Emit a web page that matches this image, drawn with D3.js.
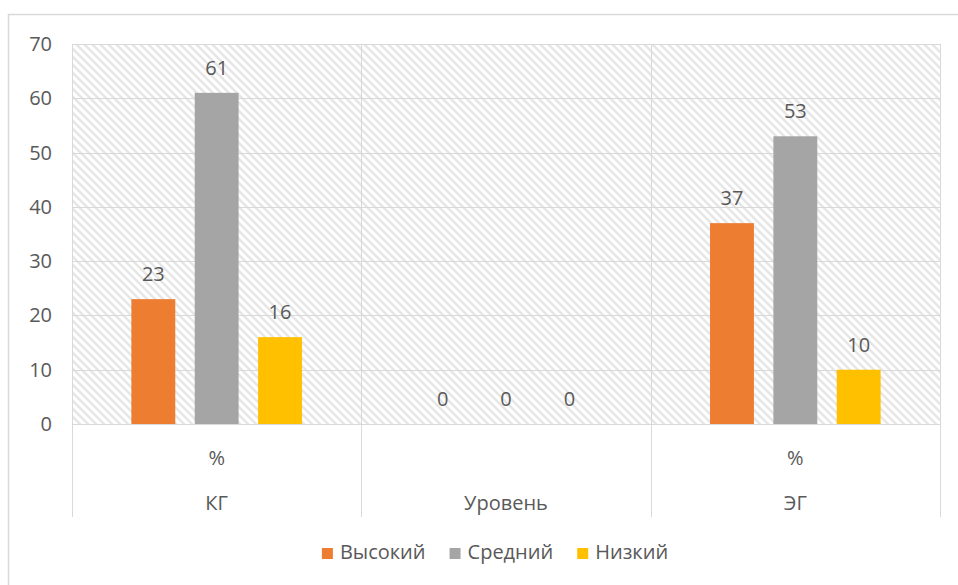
<!DOCTYPE html>
<html>
<head>
<meta charset="utf-8">
<script src="https://cdn.jsdelivr.net/npm/d3@7"></script>
<style>
  body { margin: 0; background: #fff; }
  text { font-family: "Open Sans", sans-serif; fill: #595959; }
</style>
</head>
<body>
<div id="chart"></div>
<script>
// groups on the x axis, with the small sub label above each
const groups = ["КГ", "Уровень", "ЭГ"];
const subLabels = ["%", "", "%"];
const series = ["Высокий", "Средний", "Низкий"];
const colors = ["#ed7d31", "#a5a5a5", "#ffc000"];
// values per series, in the order of groups
const high = [23, 0, 37];
const mid = [61, 0, 53];
const low = [16, 0, 10];
const yTicks = [0, 10, 20, 30, 40, 50, 60, 70];

const W = 958;
const H = 585;
const M = { left: 72, right: 940, top: 44, bottom: 424 };
const FS = "20px";

const svg = d3.select("#chart").append("svg")
  .attr("width", W)
  .attr("height", H);

// hatch for the plot area
const pat = svg.append("defs").append("pattern")
  .attr("id", "hatch")
  .attr("patternUnits", "userSpaceOnUse")
  .attr("width", 8)
  .attr("height", 8);
pat.append("rect").attr("width", 8).attr("height", 8).attr("fill", "#fff");
pat.append("path")
  .attr("d", "M-2,-2 L10,10 M-2,6 L2,10 M6,-2 L10,2")
  .attr("stroke", "#e6e6e6")
  .attr("stroke-width", 2.4);

// chart frame
svg.append("rect")
  .attr("x", 8.5).attr("y", 14.5)
  .attr("width", W).attr("height", H)
  .attr("fill", "none")
  .attr("stroke", "#d9d9d9")
  .attr("stroke-width", 1.5);

const x = d3.scaleBand().domain(groups).range([M.left, M.right]);
const xs = d3.scaleBand().domain(series).range([0, x.bandwidth()])
  .paddingInner(0.307).paddingOuter(0.937);
const y = d3.scaleLinear().domain([0, 70]).range([M.bottom, M.top]);

svg.append("rect")
  .attr("x", M.left).attr("y", M.top)
  .attr("width", M.right - M.left).attr("height", M.bottom - M.top)
  .attr("fill", "url(#hatch)");

// horizontal grid
svg.append("g")
  .selectAll("line")
  .data(yTicks)
  .enter()
  .append("line")
  .attr("x1", M.left).attr("x2", M.right)
  .attr("y1", (d) => Math.round(y(d)) + 0.5)
  .attr("y2", (d) => Math.round(y(d)) + 0.5)
  .attr("stroke", "#d9d9d9");

// vertical separators running down through the labels
const seps = groups.map((g) => x(g)).concat([M.right]);
svg.append("g")
  .selectAll("line")
  .data(seps)
  .enter()
  .append("line")
  .attr("x1", (d) => Math.round(d) + 0.5)
  .attr("x2", (d) => Math.round(d) + 0.5)
  .attr("y1", M.top).attr("y2", 517)
  .attr("stroke", "#d9d9d9");

// y labels
svg.append("g")
  .selectAll("text")
  .data(yTicks)
  .enter()
  .append("text")
  .attr("x", 52)
  .attr("y", (d) => y(d) + 7)
  .attr("text-anchor", "end")
  .attr("font-size", FS)
  .text((d) => d);

// bars
const rows = [];
[high, mid, low].forEach((vals, si) => {
  vals.forEach((v, gi) => rows.push({ g: groups[gi], s: series[si], v, c: colors[si] }));
});

svg.append("g")
  .selectAll("rect")
  .data(rows)
  .enter()
  .append("rect")
  .attr("x", (d) => x(d.g) + xs(d.s))
  .attr("y", (d) => y(d.v))
  .attr("width", xs.bandwidth())
  .attr("height", (d) => y(0) - y(d.v))
  .attr("fill", (d) => d.c);

svg.append("g")
  .selectAll("text")
  .data(rows)
  .enter()
  .append("text")
  .attr("x", (d) => x(d.g) + xs(d.s) + xs.bandwidth() / 2)
  .attr("y", (d) => y(d.v) - 18)
  .attr("text-anchor", "middle")
  .attr("font-size", FS)
  .text((d) => d.v);

// category labels
svg.append("g")
  .selectAll("text")
  .data(subLabels)
  .enter()
  .append("text")
  .attr("x", (d, i) => x(groups[i]) + x.bandwidth() / 2)
  .attr("y", 465)
  .attr("text-anchor", "middle")
  .attr("font-size", FS)
  .text((d) => d);

svg.append("g")
  .selectAll("text")
  .data(groups)
  .enter()
  .append("text")
  .attr("x", (d) => x(d) + x.bandwidth() / 2)
  .attr("y", 510)
  .attr("text-anchor", "middle")
  .attr("font-size", FS)
  .text((d) => d);

// legend
const legend = svg.append("g");
let lx = 0;
series.forEach((s, i) => {
  const item = legend.append("g").attr("transform", "translate(" + lx + ",0)");
  item.append("rect")
    .attr("x", 0).attr("y", -11)
    .attr("width", 11).attr("height", 11)
    .attr("fill", colors[i]);
  const t = item.append("text")
    .attr("x", 18).attr("y", 0)
    .attr("font-size", FS)
    .text(s);
  lx += 18 + t.node().getComputedTextLength() + 24;
});
const legendW = lx - 24;
legend.attr("transform", "translate(" + (495 - legendW / 2) + ",559)");
</script>
</body>
</html>
